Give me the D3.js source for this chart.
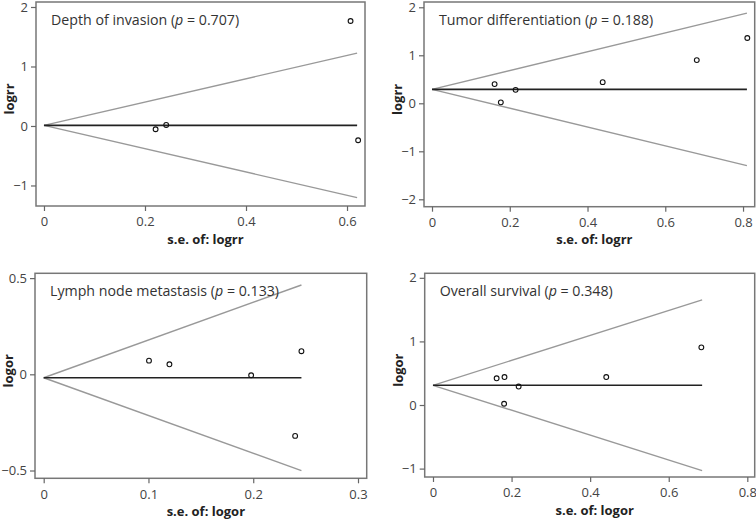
<!DOCTYPE html>
<html><head><meta charset="utf-8">
<script src="https://cdn.jsdelivr.net/npm/d3@7"></script>
<style>body{margin:0;background:#fff}svg{display:block}text{font-family:"Open Sans",sans-serif}</style>
</head><body><svg id="c" width="756" height="519"></svg>
<script>
// ---- data ----
const titles = ["Depth of invasion", "Tumor differentiation", "Lymph node metastasis", "Overall survival"];
const pValues = ["0.707", "0.188", "0.133", "0.348"];
const yLabels = ["logrr", "logrr", "logor", "logor"];
const xLabels = ["s.e. of: logrr", "s.e. of: logrr", "s.e. of: logor", "s.e. of: logor"];
const pooled = [0.01, 0.29, -0.018, 0.31];
const maxSE = [0.62, 0.81, 0.246, 0.685];
const se1 = [0.221, 0.242, 0.607, 0.622];
const es1 = [-0.055, 0.017, 1.765, -0.24];
const se2 = [0.161, 0.177, 0.215, 0.439, 0.681, 0.811];
const es2 = [0.40, 0.02, 0.28, 0.44, 0.90, 1.36];
const se3 = [0.1005, 0.12, 0.198, 0.246, 0.240];
const es3 = [0.071, 0.052, -0.005, 0.12, -0.32];
const se4 = [0.162, 0.182, 0.181, 0.218, 0.441, 0.683];
const es4 = [0.42, 0.44, 0.02, 0.29, 0.44, 0.907];
const xTicks = [[0, 0.2, 0.4, 0.6], [0, 0.2, 0.4, 0.6, 0.8], [0, 0.1, 0.2, 0.3], [0, 0.2, 0.4, 0.6, 0.8]];
const yTicks = [[-1, 0, 1, 2], [-2, -1, 0, 1, 2], [-0.5, 0, 0.5], [-1, 0, 1, 2]];
const xDomains = [[-0.0158, 0.6356], [-0.0206, 0.830], [-0.0083, 0.3083], [-0.0211, 0.8188]];
const yDomains = [[-1.345, 2.084], [-2.154, 2.110], [-0.5405, 0.525], [-1.132, 2.071]];
// ---- layout ----
const boxes = [
  {l: 36, r: 365, t: 2, b: 206},
  {l: 424, r: 754.7, t: 2, b: 206.7},
  {l: 35, r: 366.7, t: 273.3, b: 478.3},
  {l: 424.7, r: 754.7, t: 273.3, b: 477}
];
const seArr = [se1, se2, se3, se4], esArr = [es1, es2, es3, es4];
const svg = d3.select("#c");
const fmt = v => v < 0 ? "\u2212" + Math.abs(v) : String(v);

boxes.forEach((bx, i) => {
  const x = d3.scaleLinear().domain(xDomains[i]).range([bx.l, bx.r]);
  const y = d3.scaleLinear().domain(yDomains[i]).range([bx.b, bx.t]);
  const g = svg.append("g");
  // funnel
  const c = pooled[i], m = maxSE[i];
  g.append("line").attr("x1", x(0)).attr("y1", y(c)).attr("x2", x(m)).attr("y2", y(c + 1.96 * m))
    .attr("stroke", "#999").attr("stroke-width", 1.4);
  g.append("line").attr("x1", x(0)).attr("y1", y(c)).attr("x2", x(m)).attr("y2", y(c - 1.96 * m))
    .attr("stroke", "#999").attr("stroke-width", 1.4);
  g.append("line").attr("x1", x(0)).attr("y1", y(c)).attr("x2", x(m)).attr("y2", y(c))
    .attr("stroke", "#222").attr("stroke-width", 1.6);
  // points
  g.selectAll("circle").data(seArr[i].map((s, k) => [s, esArr[i][k]])).join("circle")
    .attr("cx", d => x(d[0])).attr("cy", d => y(d[1])).attr("r", 2.4)
    .attr("fill", "none").attr("stroke", "#111").attr("stroke-width", 1.1);
  // box
  g.append("rect").attr("x", bx.l).attr("y", bx.t).attr("width", bx.r - bx.l).attr("height", bx.b - bx.t)
    .attr("fill", "none").attr("stroke", "#777").attr("stroke-width", 1.5);
  // axes
  const ax = g.append("g").attr("transform", `translate(0,${bx.b})`)
    .call(d3.axisBottom(x).tickValues(xTicks[i]).tickFormat(fmt).tickSize(5).tickPadding(6));
  const ay = g.append("g").attr("transform", `translate(${bx.l},0)`)
    .call(d3.axisLeft(y).tickValues(yTicks[i]).tickFormat(fmt).tickSize(5).tickPadding(3));
  [ax, ay].forEach(a => {
    a.select(".domain").remove();
    a.selectAll(".tick line").attr("stroke", "#666").attr("stroke-width", 1.2);
    a.selectAll(".tick text").attr("fill", "#444").attr("font-size", 13).attr("font-family", "Open Sans");
  });
  // annotation
  const t = g.append("text").attr("x", bx.l + 15).attr("y", bx.t + 23).attr("font-size", 14.2).attr("fill", "#333");
  t.append("tspan").text(titles[i] + " (");
  t.append("tspan").attr("font-style", "italic").text("p");
  t.append("tspan").text(" = " + pValues[i] + ")");
  // axis titles
  g.append("text").attr("x", (bx.l + bx.r) / 2 + 5).attr("y", bx.b + 37.5).attr("text-anchor", "middle")
    .attr("font-size", 13).attr("font-weight", "bold").attr("fill", "#222").text(xLabels[i]);
  g.append("text").attr("transform", `translate(${bx.l - 22},${(bx.t + bx.b) / 2 - 5}) rotate(-90)`)
    .attr("text-anchor", "middle").attr("font-size", 13).attr("font-weight", "bold").attr("fill", "#222").text(yLabels[i]);
});
</script></body></html>
